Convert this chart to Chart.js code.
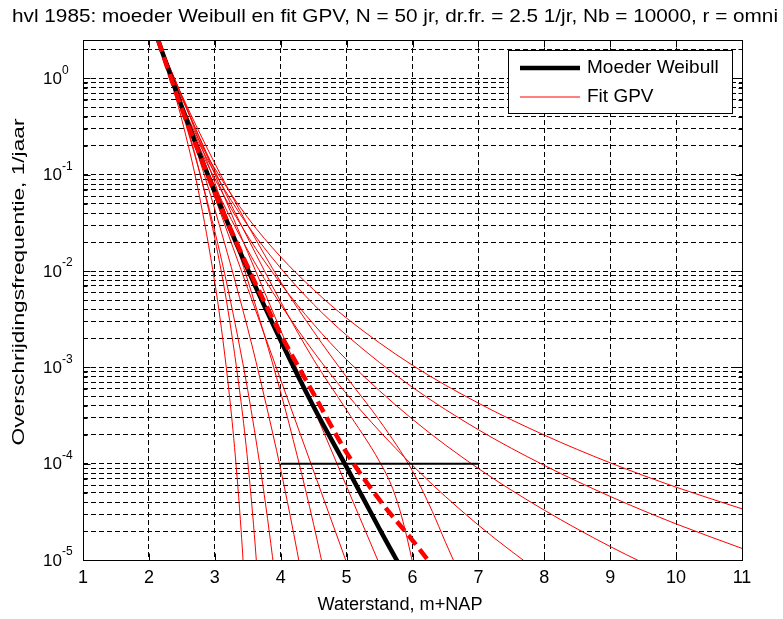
<!DOCTYPE html>
<html>
<head>
<meta charset="utf-8">
<script src="https://cdn.jsdelivr.net/npm/chart.js@4.4.1/dist/chart.umd.min.js"></script>
<style>
  html, body { margin: 0; padding: 0; background: #fff; }
  #wrap { width: 783px; height: 619px; position: relative; }
</style>
</head>
<body>
<div id="wrap"><canvas id="graph"></canvas></div>
<script>
var chartTitle = "hvl 1985: moeder Weibull en fit GPV, N = 50 jr, dr.fr. = 2.5 1/jr, Nb = 10000, r = omni";
var xTitle = "Waterstand, m+NAP";
var yTitle = "Overschrijdingsfrequentie, 1/jaar";
var legendLabels = ["Moeder Weibull", "Fit GPV"];

var xTicks = [1, 2, 3, 4, 5, 6, 7, 8, 9, 10, 11];
var yPowers = [-5, -4, -3, -2, -1, 0];
var yMin = 1e-5, yMax = 2.5;

// moeder Weibull (dik zwart)
var weibullX = [2.14, 2.3, 2.5, 2.75, 3, 3.5, 4, 4.5, 5, 5.5, 5.76, 6];
var weibullF = [2.5, 1.21, 0.505, 0.178, 0.066, 0.0104, 1.9e-3, 3.9e-4, 9.2e-5, 2.1e-5, 1e-5, 5.3e-6];

// GPV fit (dik rood gestreept)
var gpvX = [2.14, 2.3, 2.5, 2.75, 3, 3.5, 4, 4.5, 5, 5.5, 6, 6.5];
var gpvF = [2.5, 1.18, 0.48, 0.175, 0.065, 0.011, 2.2e-3, 5.3e-4, 1.3e-4, 4.2e-5, 1.6e-5, 5.8e-6];

// bootstrap fits GPV (dun rood)
var fit1X = [2.14, 2.3, 2.5, 2.75, 3.0, 3.1, 3.2, 3.3, 3.4, 3.46];
var fit1F = [2.5, 1.14, 0.371, 0.0684, 7.6e-3, 2.54e-3, 7.0e-4, 1.47e-4, 2.0e-5, 4.4e-6];
var fit2X = [2.14, 2.3, 2.5, 2.75, 3.0, 3.2, 3.4, 3.5, 3.6, 3.66];
var fit2F = [2.5, 1.26, 0.484, 0.12, 0.0218, 3.93e-3, 4.28e-4, 1.05e-4, 1.84e-5, 5.2e-6];
var fit3X = [2.14, 2.3, 2.5, 2.75, 3.0, 3.2, 3.5, 3.7, 3.8, 3.9, 3.95];
var fit3F = [2.5, 1.21, 0.455, 0.118, 0.0258, 6.5e-3, 5.78e-4, 8.2e-5, 2.7e-5, 7.9e-6, 4.1e-6];
var fit4X = [2.14, 2.3, 2.5, 2.75, 3.0, 3.5, 3.75, 4.0, 4.2, 4.3, 4.4];
var fit4F = [2.5, 1.26, 0.512, 0.156, 0.0437, 2.52e-3, 5.0e-4, 8.7e-5, 1.84e-5, 8.0e-6, 3.4e-6];
var fit5X = [2.14, 2.3, 2.5, 2.75, 3.0, 3.5, 4.0, 4.25, 4.5, 4.7];
var fit5F = [2.5, 1.39, 0.649, 0.238, 0.0826, 8.0e-3, 5.5e-4, 1.21e-4, 2.34e-5, 5.5e-6];
var fit6X = [2.14, 2.3, 2.5, 2.75, 3.0, 3.5, 4.0, 4.5, 5.0, 5.1];
var fit6F = [2.5, 1.245, 0.519, 0.174, 0.0585, 6.59e-3, 7.43e-4, 8.36e-5, 9.4e-6, 6.1e-6];
var fit7X = [2.14, 2.3, 2.5, 2.75, 3.0, 3.5, 4.0, 4.5, 5.0, 5.5, 5.6];
var fit7F = [2.5, 1.38, 0.653, 0.257, 0.101, 0.0156, 2.42e-3, 3.75e-4, 5.8e-5, 9.0e-6, 6.2e-6];
var fit8X = [2.14, 2.3, 2.5, 2.75, 3.0, 3.5, 4.0, 4.5, 5.0, 5.5, 5.7, 5.85, 6.0, 6.05];
var fit8F = [2.5, 1.3, 0.62, 0.26, 0.11, 0.022, 4.8e-3, 1.2e-3, 3.6e-4, 1.05e-4, 5.5e-5, 2.6e-5, 9.5e-6, 6.5e-6];
var fit9X = [2.14, 2.3, 2.5, 2.75, 3, 3.5, 4, 4.5, 5, 5.5, 6, 6.3, 6.5, 6.62, 6.7];
var fit9F = [2.5, 1.36, 0.667, 0.29, 0.131, 0.03, 7.7e-3, 2.35e-3, 7.9e-4, 2.8e-4, 8.4e-5, 3.2e-5, 1.53e-5, 1.0e-5, 7.6e-6];
var fit10X = [2.14, 2.3, 2.5, 2.75, 3.0, 3.5, 4.0, 4.5, 5.0, 6.0, 7.0, 8.0];
var fit10F = [2.5, 1.16, 0.488, 0.183, 0.076, 0.0164, 4.48e-3, 1.45e-3, 5.3e-4, 9.6e-5, 2.3e-5, 6.8e-6];
var fit11X = [2.14, 2.3, 2.5, 2.75, 3.0, 3.5, 4.0, 4.5, 5.0, 6.0, 7.0, 8.0, 9.0, 10.0];
var fit11F = [2.5, 1.17, 0.508, 0.203, 0.0906, 0.023, 7.4e-3, 2.8e-3, 1.2e-3, 2.89e-4, 8.9e-5, 3.29e-5, 1.38e-5, 6.4e-6];
var fit12X = [2.14, 2.3, 2.5, 2.75, 3.0, 3.5, 4.0, 4.5, 5.0, 6.0, 7.0, 8.0, 9.0, 10.0, 11.0];
var fit12F = [2.5, 1.19, 0.526, 0.22, 0.104, 0.0297, 0.0107, 4.5e-3, 2.15e-3, 6.2e-4, 2.25e-4, 9.6e-5, 4.57e-5, 2.37e-5, 1.32e-5];
var fit13X = [2.14, 2.3, 2.5, 2.75, 3.0, 3.5, 4.0, 4.5, 5.0, 6.0, 7.0, 8.0, 9.0, 10.0, 11.0];
var fit13F = [2.5, 1.19, 0.542, 0.235, 0.116, 0.0358, 0.014, 6.4e-3, 3.24e-3, 1.05e-3, 4.25e-4, 1.98e-4, 1.02e-4, 5.7e-5, 3.4e-5];

// spreiding bij 1e-4
var bandX = [4, 7];
var bandF = [1e-4, 1e-4];

var fitsX = [fit1X, fit2X, fit3X, fit4X, fit5X, fit6X, fit7X, fit8X, fit9X, fit10X, fit11X, fit12X, fit13X];
var fitsF = [fit1F, fit2F, fit3F, fit4F, fit5F, fit6F, fit7F, fit8F, fit9F, fit10F, fit11F, fit12F, fit13F];

var fontName = '"Liberation Sans", Arial, Helvetica, sans-serif';

function toPoints(xs, fs) {
  var pts = [];
  for (var i = 0; i < xs.length; i++) pts.push({x: xs[i], y: fs[i]});
  return pts;
}

function lineSet(label, xs, fs, color, width, dash) {
  return {
    label: label,
    data: toPoints(xs, fs),
    borderColor: color,
    borderWidth: width,
    borderDash: dash || [],
    pointRadius: 0,
    fill: false,
    cubicInterpolationMode: 'monotone'
  };
}

function isDecade(v) {
  var l = Math.log10(v);
  return Math.abs(l - Math.round(l)) < 1e-9;
}

// gridlijnen op 1..9 x 10^k
var yGrid = [];
for (var p = yPowers[0]; p < 0; p++) {
  for (var m = 1; m <= 9; m++) yGrid.push(m * Math.pow(10, p));
}
yGrid.push(1, 2);

var datasets = [];
datasets.push(lineSet("GPV fit", gpvX, gpvF, "#ff0000", 4.5, [12, 6]));
datasets.push(lineSet(legendLabels[0], weibullX, weibullF, "#000000", 4.5));
datasets.push(lineSet("spreiding", bandX, bandF, "#000000", 2));
for (var i = 0; i < fitsX.length; i++) {
  datasets.push(lineSet(legendLabels[1], fitsX[i], fitsF[i], "#ff0000", 1));
}

// tekst horizontaal op een vaste breedte zetten
function fitText(ctx, txt, cx, cy, width) {
  var w = ctx.measureText(txt).width;
  ctx.save();
  ctx.translate(cx, cy);
  ctx.scale(width / w, 1);
  ctx.fillText(txt, 0, 0);
  ctx.restore();
}

var decor = {
  id: 'decor',
  beforeDraw: function(chart) {
    var ctx = chart.ctx;
    ctx.save();
    ctx.fillStyle = '#fff';
    ctx.fillRect(0, 0, chart.width, chart.height);
    ctx.restore();
  },
  afterDraw: function(chart) {
    var ctx = chart.ctx, a = chart.chartArea;
    var xs = chart.scales.x, ys = chart.scales.y;
    var L = Math.round(a.left) + 0.5, R = Math.round(a.right) + 0.5;
    var T = Math.round(a.top) + 0.5, B = Math.round(a.bottom) + 0.5;
    ctx.save();
    ctx.strokeStyle = '#000';
    ctx.lineWidth = 1;
    ctx.setLineDash([]);
    ctx.strokeRect(L, T, R - L, B - T);

    // ticks naar binnen
    ctx.beginPath();
    xTicks.forEach(function(v) {
      var px = Math.round(xs.getPixelForValue(v)) + 0.5;
      ctx.moveTo(px, B); ctx.lineTo(px, B - 7);
      ctx.moveTo(px, T); ctx.lineTo(px, T + 7);
    });
    yGrid.forEach(function(v) {
      var py = Math.round(ys.getPixelForValue(v)) + 0.5;
      var len = isDecade(v) ? 7 : 4;
      ctx.moveTo(L, py); ctx.lineTo(L + len, py);
      ctx.moveTo(R, py); ctx.lineTo(R - len, py);
    });
    ctx.stroke();

    ctx.fillStyle = '#000';
    // x tick labels
    ctx.font = '18px ' + fontName;
    ctx.textAlign = 'center';
    ctx.textBaseline = 'middle';
    xTicks.forEach(function(v) {
      ctx.fillText(String(v), xs.getPixelForValue(v), a.bottom + 18);
    });
    // y tick labels 10^p
    yPowers.forEach(function(p) {
      var py = ys.getPixelForValue(Math.pow(10, p));
      ctx.font = '17px ' + fontName;
      ctx.textAlign = 'right';
      ctx.textBaseline = 'middle';
      ctx.fillText('10', a.left - 21, py + 1);
      ctx.font = '12px ' + fontName;
      ctx.textAlign = 'left';
      ctx.fillText(String(p), a.left - 21, py - 8);
    });

    // titels
    ctx.textAlign = 'center';
    ctx.textBaseline = 'middle';
    ctx.font = '18px ' + fontName;
    fitText(ctx, xTitle, 400, a.bottom + 45, 165);
    ctx.font = '18px ' + fontName;
    fitText(ctx, chartTitle, 395, 17, 766);
    ctx.save();
    ctx.translate(19, 282);
    ctx.rotate(-Math.PI / 2);
    ctx.font = '17px ' + fontName;
    fitText(ctx, yTitle, 0, 0, 327);
    ctx.restore();

    // legenda
    var lx = Math.round(a.right) - 234, ly = Math.round(a.top) + 10, lw = 224, lh = 63;
    ctx.fillStyle = '#fff';
    ctx.fillRect(lx, ly, lw, lh);
    ctx.strokeStyle = '#000';
    ctx.lineWidth = 1;
    ctx.strokeRect(lx + 0.5, ly + 0.5, lw, lh);
    var ds = chart.data.datasets;
    var entries = [ds[1], ds[3]];
    entries.forEach(function(d, k) {
      var yy = ly + 18 + k * 29;
      ctx.strokeStyle = d.borderColor;
      ctx.lineWidth = d.borderWidth;
      ctx.beginPath();
      ctx.moveTo(lx + 12, yy); ctx.lineTo(lx + 72, yy);
      ctx.stroke();
      ctx.fillStyle = '#000';
      ctx.font = '19px ' + fontName;
      ctx.textAlign = 'left';
      ctx.textBaseline = 'middle';
      ctx.fillText(d.label, lx + 79, yy);
    });
    ctx.restore();
  }
};

function gridOpts() {
  return { color: '#000', lineWidth: 1, drawTicks: false };
}

new Chart(document.getElementById('graph'), {
  type: 'line',
  data: { datasets: datasets },
  options: {
    responsive: true,
    maintainAspectRatio: false,
    animation: false,
    events: [],
    layout: { padding: { left: 83, right: 41, top: 40, bottom: 59 } },
    plugins: { legend: { display: false }, tooltip: { enabled: false }, title: { display: false } },
    scales: {
      x: {
        type: 'linear', min: xTicks[0], max: xTicks[xTicks.length - 1],
        afterBuildTicks: function(s) { s.ticks = xTicks.map(function(v) { return {value: v}; }); },
        ticks: { display: false },
        grid: gridOpts(),
        border: { display: false, dash: [5, 3] }
      },
      y: {
        type: 'logarithmic', min: yMin, max: yMax,
        afterBuildTicks: function(s) { s.ticks = yGrid.map(function(v) { return {value: v}; }); },
        ticks: { display: false },
        grid: gridOpts(),
        border: { display: false, dash: [5, 3] }
      }
    }
  },
  plugins: [decor]
});
</script>
</body>
</html>
